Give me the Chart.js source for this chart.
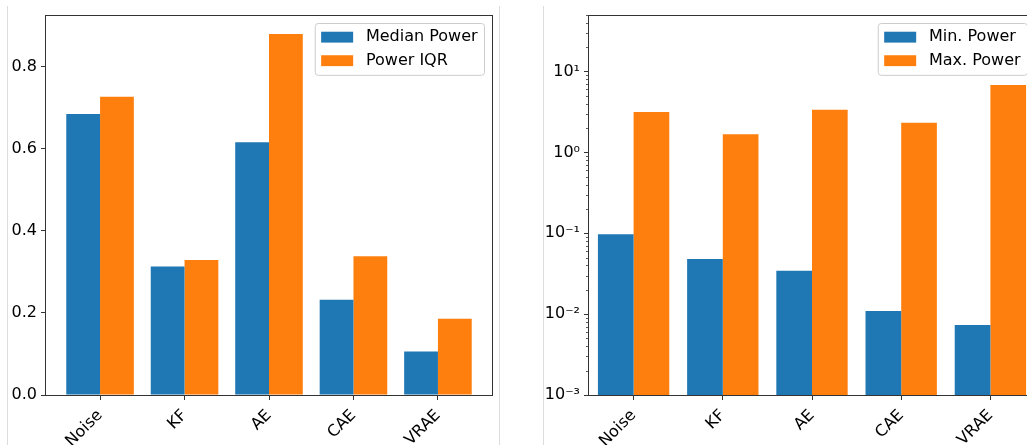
<!DOCTYPE html>
<html>
<head>
<meta charset="utf-8">
<script src="https://cdn.jsdelivr.net/npm/chart.js@4.4.1/dist/chart.umd.min.js"></script>
<style>
  html, body { margin: 0; padding: 0; background: #fff; overflow: hidden; width: 1027px; height: 445px; }
  .sep { position: absolute; top: 6px; bottom: 0; width: 1px; background: #dcdcdc; }
  canvas { position: absolute; top: 0; }
</style>
</head>
<body>
<div class="sep" style="left:7px"></div>
<div class="sep" style="left:499px"></div>
<div class="sep" style="left:543px"></div>
<canvas id="left" width="500" height="445" style="left:0"></canvas>
<canvas id="right" width="530" height="445" style="left:510px"></canvas>
<script>
const categories = ['Noise', 'KF', 'AE', 'CAE', 'VRAE'];
const medianPower = [0.685, 0.313, 0.616, 0.232, 0.106];
const powerIQR = [0.727, 0.329, 0.880, 0.338, 0.186];
const minPower = [0.0975, 0.0482, 0.0343, 0.0109, 0.00734];
const maxPower = [3.15, 1.68, 3.37, 2.32, 6.8];
const linearTicks = [0, 0.2, 0.4, 0.6, 0.8];
const logTicks = [0.001, 0.01, 0.1, 1, 10];
const logTickLabels = ['10⁻³', '10⁻²', '10⁻¹', '10⁰', '10¹'];

Chart.defaults.font.family = "'DejaVu Sans', sans-serif";
Chart.defaults.font.size = 16;
Chart.defaults.color = '#000';

const blue = '#1f77b4', orange = '#ff7f0e', spine = '#333';

// spines, minor ticks and a matplotlib-like legend box
const boxPlugin = {
  id: 'box',
  afterDraw(chart) {
    const { ctx, chartArea: a } = chart;
    const y = chart.scales.y;
    ctx.save();
    ctx.strokeStyle = spine;
    ctx.lineWidth = 0.8;
    y.ticks.forEach(t => {
      if (!t.minor) return;
      const py = Math.round(y.getPixelForValue(t.value)) + 0.5;
      ctx.beginPath();
      ctx.moveTo(a.left - 3, py);
      ctx.lineTo(a.left, py);
      ctx.stroke();
    });
    ctx.lineWidth = 1;
    ctx.strokeRect(Math.round(a.left) - 0.5, Math.round(a.top) + 0.5,
      Math.round(a.right - a.left) + 1, Math.round(a.bottom - a.top));

    const fs = 16;
    ctx.font = fs + "px 'DejaVu Sans'";
    const sets = chart.data.datasets;
    const tw = Math.max(...sets.map(d => ctx.measureText(d.label).width));
    const rowH = fs * 0.97, gap = fs * 0.5;
    const w = fs * 3.6 + tw;
    const h = fs * 0.8 + rowH * sets.length + gap * (sets.length - 1);
    const x0 = a.right - fs * 0.5 - w, y0 = a.top + fs * 0.5;
    ctx.beginPath();
    ctx.roundRect(x0 + 0.5, y0 + 0.5, w, h, 3);
    ctx.fillStyle = 'rgba(255,255,255,0.8)';
    ctx.fill();
    ctx.strokeStyle = '#cccccc';
    ctx.stroke();
    sets.forEach((d, i) => {
      const cy = y0 + fs * 0.4 + rowH / 2 + i * (rowH + gap);
      ctx.fillStyle = d.backgroundColor;
      ctx.fillRect(x0 + fs * 0.4, cy - fs * 0.34, fs * 2, fs * 0.68);
      ctx.fillStyle = '#000';
      ctx.textBaseline = 'middle';
      ctx.textAlign = 'left';
      ctx.fillText(d.label, x0 + fs * 3.2, cy);
    });
    ctx.restore();
  }
};

function xAxis(min, max) {
  return {
    type: 'linear', min: min, max: max, offset: false,
    afterBuildTicks: s => { s.ticks = categories.map((c, i) => ({ value: i })); },
    afterFit: s => { s.height = 50; },
    ticks: { autoSkip: false, minRotation: 45, maxRotation: 45, padding: 6,
      callback: (v, i) => categories[i] },
    grid: { offset: false, drawOnChartArea: false, tickLength: 5, tickColor: spine },
    border: { display: false }
  };
}

function makeChart(id, labels, series, yScale, xMin, xMax, padRight) {
  new Chart(document.getElementById(id), {
    type: 'bar',
    data: {
      datasets: [
        { label: labels[0], data: series[0].map((v, i) => ({ x: i, y: v })), backgroundColor: blue },
        { label: labels[1], data: series[1].map((v, i) => ({ x: i, y: v })), backgroundColor: orange }
      ]
    },
    options: {
      responsive: false,
      animation: false,
      categoryPercentage: 0.8,
      barPercentage: 1.0,
      layout: { padding: { top: 15, right: padRight, left: 0, bottom: 0 } },
      plugins: { legend: { display: false }, tooltip: { enabled: false } },
      scales: { x: xAxis(xMin, xMax), y: yScale }
    },
    plugins: [boxPlugin]
  });
}

makeChart('left', ['Median Power', 'Power IQR'], [medianPower, powerIQR], {
  type: 'linear', min: 0, max: 0.926,
  afterBuildTicks: s => { s.ticks = linearTicks.map(v => ({ value: v })); },
  afterFit: s => { s.width = 46; },
  ticks: { autoSkip: false, padding: 4, callback: v => v.toFixed(1) },
  grid: { drawOnChartArea: false, tickLength: 5, tickColor: spine },
  border: { display: false }
}, -0.64, 4.64, 8);

makeChart('right', ['Min. Power', 'Max. Power'], [minPower, maxPower], {
  type: 'logarithmic', min: 0.001, max: 50,
  afterBuildTicks: s => {
    const t = logTicks.map(v => ({ value: v }));
    logTicks.forEach(d => {
      for (let m = 2; m <= 9; m++) {
        const v = m * d;
        if (v <= 50) t.push({ value: v, minor: true });
      }
    });
    s.ticks = t.sort((p, q) => p.value - q.value);
  },
  afterFit: s => { s.width = 79; },
  ticks: { autoSkip: false, padding: 4,
    callback: v => { const k = logTicks.indexOf(v); return k >= 0 ? logTickLabels[k] : ''; } },
  grid: { drawOnChartArea: false, tickLength: 5,
    tickColor: c => (c.tick && c.tick.minor) ? 'rgba(0,0,0,0)' : spine },
  border: { display: false }
}, -0.5, 4.5, 5);
</script>
</body>
</html>
